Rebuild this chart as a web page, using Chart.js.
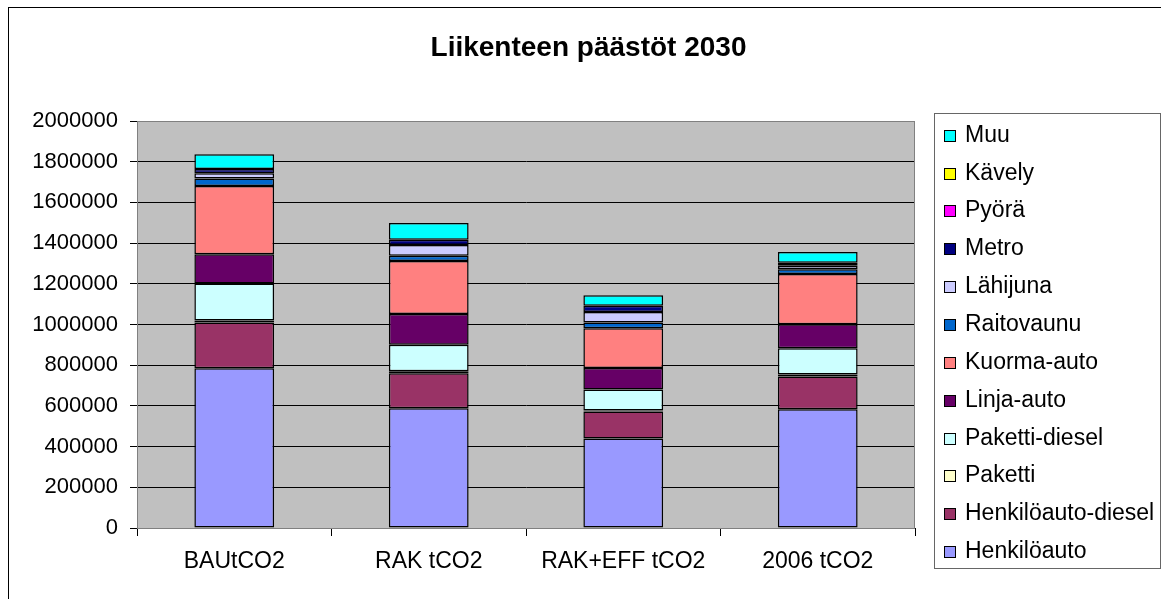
<!DOCTYPE html>
<html>
<head>
<meta charset="utf-8">
<title>Liikenteen päästöt 2030</title>
<script src="https://cdn.jsdelivr.net/npm/chart.js"></script>
<style>
  html, body { margin: 0; padding: 0; background: #ffffff; }
  #chart { display: block; }
</style>
</head>
<body>
<canvas id="chart" width="1161" height="599"></canvas>
<script>
const chartTitle = 'Liikenteen päästöt 2030';
const categories = ['BAUtCO2', 'RAK tCO2', 'RAK+EFF tCO2', '2006 tCO2'];
const yTicks = [0, 200000, 400000, 600000, 800000, 1000000, 1200000, 1400000, 1600000, 1800000, 2000000];

// tCO2 per vehicle type
const henkiloauto = [785000, 589000, 440000, 583000];
const henkiloautoDiesel = [225000, 171000, 133000, 161000];
const paketti = [10000, 10000, 5000, 10000];
const pakettiDiesel = [182000, 131000, 102000, 129000];
const linjaAuto = [143000, 151000, 106000, 118000];
const kuormaAuto = [335000, 260000, 196000, 247000];
const raitovaunu = [38000, 26000, 28000, 24000];
const lahijuna = [25000, 53000, 52000, 17000];
const metro = [21000, 26000, 30000, 14000];
const pyora = [0, 0, 0, 0];
const kavely = [0, 0, 0, 0];
const muu = [72000, 82000, 52000, 53000];

const seriesNames = ['Henkilöauto', 'Henkilöauto-diesel', 'Paketti', 'Paketti-diesel', 'Linja-auto',
    'Kuorma-auto', 'Raitovaunu', 'Lähijuna', 'Metro', 'Pyörä', 'Kävely', 'Muu'];
const seriesValues = [henkiloauto, henkiloautoDiesel, paketti, pakettiDiesel, linjaAuto,
    kuormaAuto, raitovaunu, lahijuna, metro, pyora, kavely, muu];
const seriesColors = ['#9999FF', '#993366', '#FFFFCC', '#CCFFFF', '#660066',
    '#FF8080', '#0066CC', '#CCCCFF', '#000080', '#FF00FF', '#FFFF00', '#00FFFF'];

const FONT = '"Liberation Sans", Arial, sans-serif';

// grey plot area, outer frame, title and the boxed legend on the right
const excelFrame = {
    id: 'excelFrame',
    beforeDraw(chart) {
        const ctx = chart.ctx;
        const a = chart.chartArea;
        ctx.save();
        ctx.fillStyle = '#ffffff';
        ctx.fillRect(0, 0, chart.width, chart.height);
        ctx.fillStyle = '#C0C0C0';
        ctx.fillRect(a.left, a.top, a.right - a.left, a.bottom - a.top);
        ctx.restore();
    },
    beforeDatasetsDraw(chart) {
        const ctx = chart.ctx;
        const a = chart.chartArea;
        ctx.save();
        ctx.strokeStyle = '#808080';
        ctx.lineWidth = 1;
        ctx.strokeRect(a.left + 0.5, a.top + 0.5, a.right - a.left - 1, a.bottom - a.top);
        ctx.restore();
    },
    afterDraw(chart) {
        const ctx = chart.ctx;
        ctx.save();
        // outer chart border (right and bottom edges fall outside the picture)
        ctx.strokeStyle = '#000000';
        ctx.lineWidth = 1;
        ctx.strokeRect(8.5, 7.5, 1170, 600);

        // title
        ctx.fillStyle = '#000000';
        ctx.font = 'bold 28px ' + FONT;
        ctx.textAlign = 'center';
        ctx.textBaseline = 'alphabetic';
        ctx.fillText(chartTitle, 588.5, 56);

        // legend box
        ctx.strokeStyle = '#666666';
        ctx.strokeRect(934.5, 113.5, 226, 455);
        ctx.font = '23px ' + FONT;
        ctx.textAlign = 'left';
        const ds = chart.data.datasets.slice().reverse();
        ds.forEach((d, i) => {
            const base = 141.7 + i * 37.86;
            ctx.fillStyle = d.backgroundColor;
            ctx.fillRect(944, Math.round(base) - 12, 12, 12);
            ctx.strokeStyle = '#000000';
            ctx.strokeRect(944.5, Math.round(base) - 11.5, 11, 11);
            ctx.fillStyle = '#000000';
            ctx.fillText(d.label, 965, base);
        });
        ctx.restore();
    }
};

const datasets = seriesNames.map((name, i) => ({
    label: name,
    data: seriesValues[i],
    backgroundColor: seriesColors[i],
    borderColor: '#000000',
    borderWidth: 1.5,
    borderSkipped: false,
    categoryPercentage: 1.0,
    barPercentage: 0.41
}));

new Chart(document.getElementById('chart'), {
    type: 'bar',
    data: { labels: categories, datasets: datasets },
    options: {
        responsive: false,
        animation: false,
        layout: { padding: { left: 0, top: 121, right: 246, bottom: 0 } },
        plugins: {
            legend: { display: false },
            title: { display: false },
            tooltip: { enabled: false }
        },
        scales: {
            x: {
                stacked: true,
                offset: true,
                afterFit(scale) { scale.height = 71; },
                grid: {
                    offset: true,
                    drawOnChartArea: false,
                    drawTicks: true,
                    tickLength: 8,
                    color: '#000000'
                },
                border: { color: '#000000', width: 1 },
                ticks: {
                    color: '#000000',
                    padding: 12,
                    maxRotation: 0,
                    font: { family: FONT, size: 23 }
                }
            },
            y: {
                stacked: true,
                min: 0,
                max: 2000000,
                afterFit(scale) { scale.width = 137; },
                afterBuildTicks(scale) { scale.ticks = yTicks.map(v => ({ value: v })); },
                grid: {
                    color: ctx => (ctx.tick && ctx.tick.value === 2000000 ? '#808080' : '#000000'),
                    tickColor: '#000000',
                    tickLength: 7,
                    lineWidth: 1
                },
                border: { color: '#000000', width: 1 },
                ticks: {
                    color: '#000000',
                    padding: 12,
                    font: { family: FONT, size: 22 },
                    callback: v => String(v)
                }
            }
        }
    },
    plugins: [excelFrame]
});
</script>
</body>
</html>
